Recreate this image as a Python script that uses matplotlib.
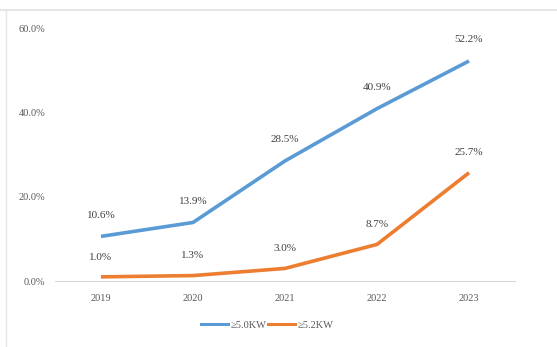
import matplotlib.pyplot as plt
from matplotlib.lines import Line2D

YEARS = ["2019", "2020", "2021", "2022", "2023"]
SERIES_A = [10.6, 13.9, 28.5, 40.9, 52.2]
SERIES_B = [1.0, 1.3, 3.0, 8.7, 25.7]
LABEL_A = "≥5.0KW"
LABEL_B = "≥5.2KW"
Y_TICKS = [0, 20, 40, 60]

BLUE = "#5B9BD5"
ORANGE = "#ED7D31"
TEXT = "#595959"

plt.rcParams["font.family"] = ["Liberation Serif", "DejaVu Serif"]

fig = plt.figure(figsize=(5.57, 3.47), dpi=100)
ax = fig.add_axes([0.0987, 0.19, 0.826, 0.729])

x = list(range(len(YEARS)))
ax.plot(x, SERIES_A, color=BLUE, lw=2.6, label=LABEL_A, solid_capstyle="butt")
ax.plot(x, SERIES_B, color=ORANGE, lw=2.6, label=LABEL_B, solid_capstyle="butt")

for xi, v in zip(x, SERIES_A):
    ax.annotate(f"{v:.1f}%", (xi, v), xytext=(0, 12), textcoords="offset points",
                ha="center", va="bottom", fontsize=8, color="#404040")
for xi, v in zip(x, SERIES_B):
    ax.annotate(f"{v:.1f}%", (xi, v), xytext=(0, 11), textcoords="offset points",
                ha="center", va="bottom", fontsize=8, color="#404040")

ax.set_xlim(-0.5, len(YEARS) - 0.5)
ax.set_ylim(0, 60)
ax.set_yticks(Y_TICKS)
ax.set_yticklabels([f"{t:.1f}%" for t in Y_TICKS], fontsize=7.5, color=TEXT)
ax.set_xticks(x)
ax.set_xticklabels(YEARS, fontsize=7.5, color=TEXT)
ax.tick_params(axis="x", length=0, pad=9)
ax.tick_params(axis="y", length=0, pad=7)

for side in ["top", "right", "left"]:
    ax.spines[side].set_visible(False)
ax.spines["bottom"].set_color("#D9D9D9")
ax.spines["bottom"].set_linewidth(0.8)

handles = [Line2D([], [], color=BLUE, lw=2.2), Line2D([], [], color=ORANGE, lw=2.2)]
fig.legend(handles, [LABEL_A, LABEL_B], loc="center", bbox_to_anchor=(0.48, 0.063),
           ncol=2, frameon=False, fontsize=7.5, handlelength=2.6, handletextpad=0.2,
           columnspacing=0.2, labelcolor=TEXT)

# outer frame lines of the cropped screenshot
fig.add_artist(Line2D([0, 1], [0.972, 0.972], color="#E6E6E6", lw=1.5,
                      transform=fig.transFigure))
fig.add_artist(Line2D([0.011, 0.011], [0, 0.972], color="#E6E6E6", lw=1.0,
                      transform=fig.transFigure))

fig.savefig("out.png", dpi=100)
